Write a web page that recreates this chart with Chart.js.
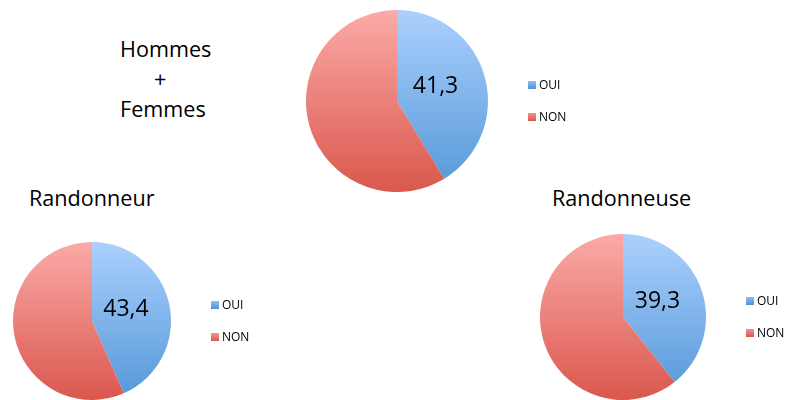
<!DOCTYPE html>
<html>
<head>
<meta charset="utf-8">
<script src="https://cdn.jsdelivr.net/npm/chart.js@4"></script>
<style>
  html, body { margin: 0; padding: 0; background: #fff; }
  body { width: 790px; height: 400px; position: relative; overflow: hidden; font-family: "Open Sans", sans-serif; }
  .box { position: absolute; }
  .title { position: absolute; font-size: 21.6px; color: #000; line-height: 30px; white-space: pre; }
</style>
</head>
<body>

<div class="title" style="left:120px; top:34px;">Hommes</div>
<div class="title" style="left:154px; top:64px;">+</div>
<div class="title" style="left:120px; top:94px;">Femmes</div>
<div class="title" style="left:29px; top:183px;">Randonneur</div>
<div class="title" style="left:552px; top:183px;">Randonneuse</div>

<div class="box" id="b1"><canvas id="pie-all"></canvas></div>
<div class="box" id="b2"><canvas id="pie-men"></canvas></div>
<div class="box" id="b3"><canvas id="pie-women"></canvas></div>

<script>
const labels = ['OUI', 'NON']
const allValues = [41.3, 58.7]
const menValues = [43.4, 56.6]
const womenValues = [39.3, 60.7]

const legendWidth = 100
const sliceColors = [['#abd0fd', '#5497d8'], ['#fbaaa8', '#da584d']]

// gradient fills, light at top, darker at bottom
function fill(ctx) {
    const pair = sliceColors[ctx.dataIndex] || sliceColors[0]
    const area = ctx.chart.chartArea
    if (!area) return pair[1]
    const g = ctx.chart.ctx.createLinearGradient(0, area.top, 0, area.bottom)
    g.addColorStop(0, pair[0])
    g.addColorStop(1, pair[1])
    return g
}

const sliceLabel = {
    id: 'sliceLabel',
    afterDatasetsDraw(chart) {
        const arc = chart.getDatasetMeta(0).data[0]
        const value = chart.data.datasets[0].data[0]
        const mid = (arc.startAngle + arc.endAngle) / 2
        const r = arc.outerRadius * 0.44
        const c = chart.ctx
        c.save()
        c.font = '23px "Open Sans"'
        c.fillStyle = '#000'
        c.textAlign = 'center'
        c.textBaseline = 'middle'
        c.fillText(String(value).replace('.', ','), arc.x + Math.cos(mid) * r, arc.y + Math.sin(mid) * r - 4)
        c.restore()
    }
}

const sideLegend = {
    id: 'sideLegend',
    afterDraw(chart) {
        const arc = chart.getDatasetMeta(0).data[0]
        const c = chart.ctx
        const x = arc.x + arc.outerRadius + 40
        const colors = [['#8fbef3', '#4f91d6'], ['#f29490', '#d9574c']]
        c.save()
        c.font = '12px "Open Sans"'
        c.textBaseline = 'middle'
        chart.data.labels.forEach((label, i) => {
            const y = arc.y + (i === 0 ? -16 : 16)
            const g = c.createLinearGradient(0, y - 4, 0, y + 4)
            g.addColorStop(0, colors[i][0])
            g.addColorStop(1, colors[i][1])
            c.fillStyle = g
            c.fillRect(x, y - 4, 8, 8)
            c.fillStyle = '#000'
            c.fillText(label, x + 11, y + 1)
        })
        c.restore()
    }
}

function makePie(boxId, canvasId, values, cx, cy, r) {
    const box = document.getElementById(boxId)
    box.style.left = (cx - r) + 'px'
    box.style.top = (cy - r) + 'px'
    box.style.width = (2 * r + legendWidth) + 'px'
    box.style.height = (2 * r) + 'px'

    return new Chart(document.getElementById(canvasId).getContext('2d'), {
        type: 'pie',
        data: {
            labels: labels,
            datasets: [
                {
                    data: values,
                    backgroundColor: fill,
                    borderWidth: 0
                }
            ]
        },
        options: {
            responsive: true,
            maintainAspectRatio: false,
            animation: false,
            layout: { padding: { right: legendWidth } },
            plugins: {
                legend: { display: false },
                tooltip: { enabled: false }
            }
        },
        plugins: [sliceLabel, sideLegend]
    })
}

makePie('b1', 'pie-all', allValues, 397, 101, 91)
makePie('b2', 'pie-men', menValues, 92, 321, 79)
makePie('b3', 'pie-women', womenValues, 623, 317, 83)
</script>
</body>
</html>
